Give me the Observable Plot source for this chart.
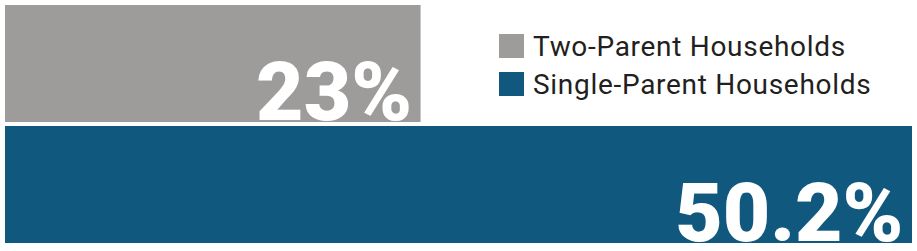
<!DOCTYPE html>
<html>
<head>
<meta charset="utf-8">
<script src="https://cdn.jsdelivr.net/npm/d3@7"></script>
<script src="https://cdn.jsdelivr.net/npm/@observablehq/plot@0.6"></script>
<style>
  html, body { margin: 0; padding: 0; background: #fff; }
  #wrap { position: relative; width: 917px; height: 251px; }
  #legend { position: absolute; left: 499px; top: 34px; font-family: Roboto, sans-serif; font-size: 28px; letter-spacing: 0.7px; color: #231f20; }
  .item { display: flex; align-items: center; height: 24px; margin-bottom: 14px; white-space: nowrap; }
  .sw { width: 25px; height: 24px; margin-right: 9px; flex: none; }
</style>
</head>
<body>
<div id="wrap"><div id="legend"></div></div>
<script>
const categories = ["Two-Parent Households", "Single-Parent Households"];
const values = [23, 50.2];
const labels = ["23%", "50.2%"];
const colors = ["#9e9c9a", "#10587e"];

const data = categories.map((c, i) => ({category: c, value: values[i], label: labels[i]}));

const chart = Plot.plot({
  width: 917,
  height: 251,
  marginTop: 0, marginBottom: 0, marginLeft: 0, marginRight: 0,
  x: {domain: [0, 50.2], range: [5, 912], axis: null},
  y: {domain: categories, range: [5, 244], paddingInner: 0.033, paddingOuter: 0, axis: null},
  color: {domain: categories, range: colors},
  marks: [
    Plot.barX(data, {x: "value", y: "category", fill: "category"}),
    Plot.text(data, {
      x: "value", y: "category", text: "label",
      textAnchor: "end", lineAnchor: "bottom", dx: -9, dy: 55.5,
      fill: "white", fontSize: 82, fontWeight: 900, fontFamily: "Roboto, sans-serif"
    })
  ]
});
chart.style.overflow = "visible";
document.getElementById("wrap").prepend(chart);
chart.style.position = "absolute";
chart.style.left = "0";
chart.style.top = "0";

const legend = document.getElementById("legend");
categories.forEach((c, i) => {
  const item = document.createElement("div");
  item.className = "item";
  const sw = document.createElement("span");
  sw.className = "sw";
  sw.style.background = colors[i];
  const t = document.createElement("span");
  t.textContent = c;
  item.appendChild(sw);
  item.appendChild(t);
  legend.appendChild(item);
});
</script>
</body>
</html>
